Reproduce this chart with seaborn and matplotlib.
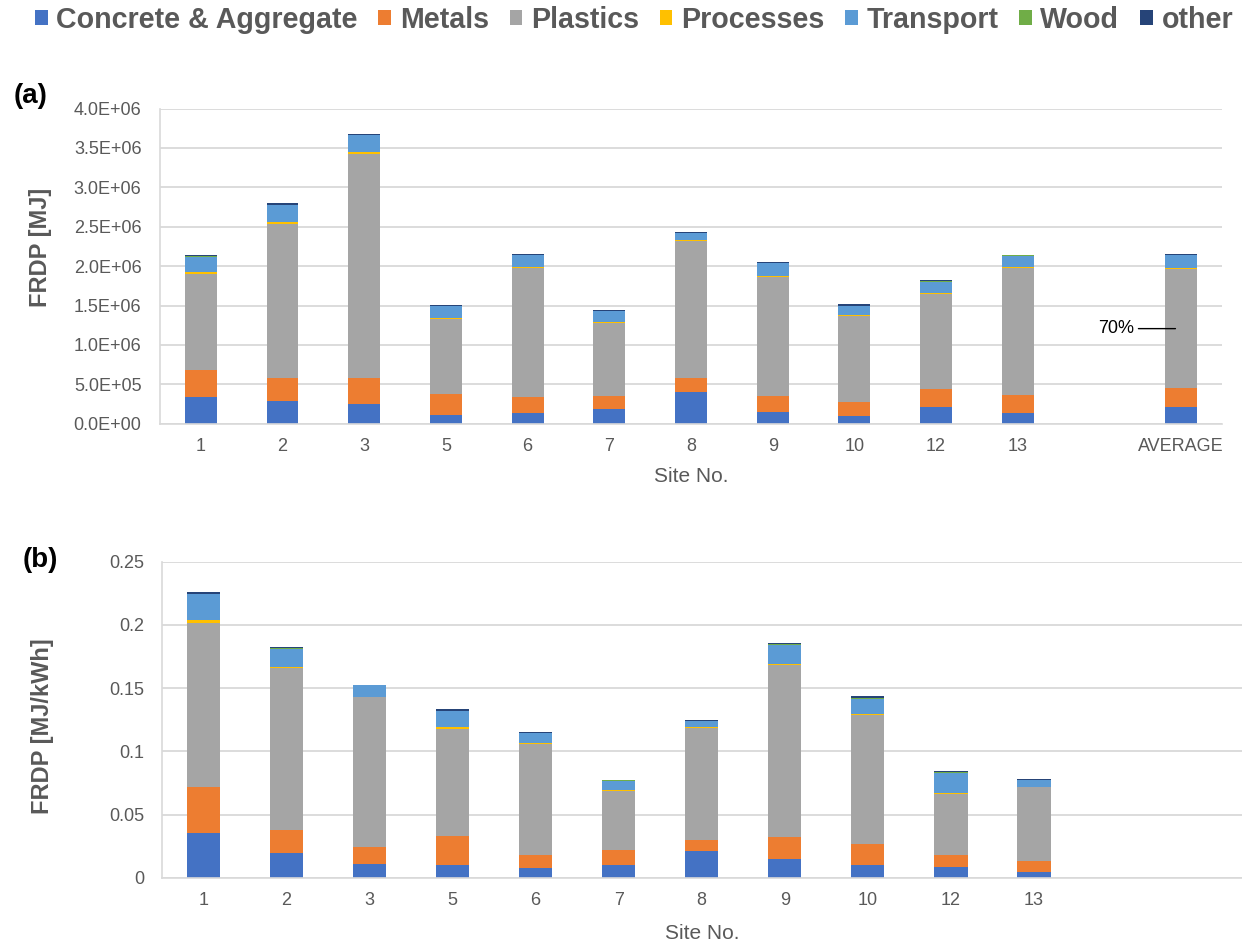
import numpy as np
import pandas as pd
import matplotlib
matplotlib.use("Agg")
import matplotlib.pyplot as plt
import seaborn as sns
from matplotlib.patches import Patch
from matplotlib.ticker import FuncFormatter

# ---------------------------------------------------------------- data
sites = ["1", "2", "3", "5", "6", "7", "8", "9", "10", "12", "13"]
categories = ["Concrete & Aggregate", "Metals", "Plastics", "Processes",
              "Transport", "Wood", "other"]
colors = ["#4472C4", "#ED7D31", "#A5A5A5", "#FFC000",
          "#5B9BD5", "#70AD47", "#264478"]

# (a) FRDP per site [MJ]
concrete_mj  = [335e3, 288e3, 254e3, 110e3, 132e3, 190e3, 406e3, 152e3, 94e3, 216e3, 132e3]
metals_mj    = [346e3, 296e3, 330e3, 271e3, 203e3, 165e3, 178e3, 203e3, 185e3, 228e3, 228e3]
plastics_mj  = [1220e3, 1954e3, 2842e3, 951e3, 1637e3, 919e3, 1731e3, 1507e3, 1084e3, 1198e3, 1616e3]
processes_mj = [25e3, 22e3, 22e3, 13e3, 17e3, 13e3, 12e3, 12e3, 13e3, 13e3, 13e3]
transport_mj = [195e3, 219e3, 216e3, 145e3, 152e3, 139e3, 93e3, 161e3, 121e3, 139e3, 143e3]
wood_mj      = [3e3, 2e3, 2e3, 2e3, 3e3, 8e3, 3e3, 5e3, 3e3, 20e3, 3e3]
other_mj     = [15e3, 20e3, 10e3, 14e3, 9e3, 5e3, 10e3, 12e3, 23e3, 6e3, 6e3]

# (b) FRDP per unit of electricity [MJ/kWh]
concrete_kwh  = [0.0351, 0.0193, 0.0111, 0.0098, 0.0074, 0.0098, 0.0209, 0.0150, 0.0098, 0.0085, 0.0047]
metals_kwh    = [0.0366, 0.0187, 0.0129, 0.0234, 0.0108, 0.0119, 0.0087, 0.0174, 0.0169, 0.0097, 0.0083]
plastics_kwh  = [0.1295, 0.1276, 0.1189, 0.0844, 0.0873, 0.0466, 0.0886, 0.1356, 0.1017, 0.0482, 0.0587]
processes_kwh = [0.0024, 0.0011, 0.0003, 0.0014, 0.0011, 0.0008, 0.0010, 0.0013, 0.0013, 0.0006, 0.0002]
transport_kwh = [0.0205, 0.0144, 0.0090, 0.0126, 0.0079, 0.0076, 0.0047, 0.0150, 0.0114, 0.0160, 0.0050]
wood_kwh      = [0.0006, 0.0003, 0.0002, 0.0003, 0.0003, 0.0004, 0.0003, 0.0007, 0.0008, 0.0010, 0.0002]
other_kwh     = [0.0010, 0.0013, 0.0004, 0.0015, 0.0005, 0.0004, 0.0005, 0.0004, 0.0021, 0.0002, 0.0006]

layers_mj = np.array([concrete_mj, metals_mj, plastics_mj, processes_mj,
                      transport_mj, wood_mj, other_mj])
layers_kwh = np.array([concrete_kwh, metals_kwh, plastics_kwh, processes_kwh,
                       transport_kwh, wood_kwh, other_kwh])

# site average appended as its own bar in panel (a)
avg_mj = layers_mj.mean(axis=1, keepdims=True)
layers_a = np.hstack([layers_mj, avg_mj])
labels_a = sites + ["AVERAGE"]
order_a = sites + [" ", "AVERAGE"]
order_b = sites + [" ", "  "]

# ---------------------------------------------------------------- style
sns.set_style("white")
plt.rcParams["font.family"] = ["Liberation Sans", "DejaVu Sans"]
TXT = "#595959"
GRID = "#d9d9d9"
PX = 1 / 1.389  # points per pixel at 100 dpi

fig = plt.figure(figsize=(12.42, 9.47), dpi=100)
W, H = 1242, 947


def axes_px(x0, y_top, x1, y_bot):
    return fig.add_axes([x0 / W, 1 - y_bot / H, (x1 - x0) / W, (y_bot - y_top) / H])


def stacked_bars(ax, layers, labels, order, width):
    cum = np.cumsum(layers, axis=0)
    for i in reversed(range(layers.shape[0])):
        d = pd.DataFrame({"site": labels, "value": cum[i]})
        sns.barplot(data=d, x="site", y="value", order=order, color=colors[i],
                    saturation=1, width=width, errorbar=None,
                    linewidth=0, ax=ax)
    n = len(order)
    ax.set_xlim(-0.5, n - 0.5)
    ax.set_xticks(range(n))
    ax.set_xticklabels(order)
    ax.set_xticks(np.arange(-0.5, n, 1.0), minor=True)
    ax.set_xlabel("")
    ax.set_ylabel("")
    ax.tick_params(axis="x", which="major", length=0, pad=10, labelsize=13, labelcolor=TXT)
    ax.tick_params(axis="x", which="minor", length=6 * PX, width=1, color=GRID, direction="out")
    ax.tick_params(axis="y", which="major", length=6 * PX, width=1, color=GRID,
                   labelsize=13, labelcolor=TXT, direction="out")
    for s in ("top", "right"):
        ax.spines[s].set_visible(False)
    for s in ("left", "bottom"):
        ax.spines[s].set_color(GRID)
        ax.spines[s].set_linewidth(1.2)
    ax.yaxis.grid(True, color=GRID, linewidth=1.3)
    ax.set_axisbelow(True)


# ---------------------------------------------------------------- (a)
ax_a = axes_px(160, 108.5, 1222, 423.7)
stacked_bars(ax_a, layers_a, labels_a, order_a, 0.39)
ax_a.set_ylim(0, 4.0e6)
ax_a.set_yticks(np.arange(0, 4.01e6, 0.5e6))
ax_a.yaxis.set_major_formatter(FuncFormatter(lambda v, p: f"{v:.1E}"))
ax_a.tick_params(axis="y", pad=9)

# plastics share of the average bar
avg = layers_a[:, -1]
share = avg[2] / avg.sum()
y_mid = avg[0] + avg[1] + avg[2] / 2
x_avg = order_a.index("AVERAGE")
ax_a.annotate(f"{share:.0%}", xy=(x_avg - 0.07, y_mid), xytext=(x_avg - 0.58, y_mid),
              ha="right", va="center", fontsize=13, color="black",
              arrowprops=dict(arrowstyle="-", color="black", lw=1, shrinkA=1, shrinkB=0))

# ---------------------------------------------------------------- (b)
ax_b = axes_px(161.7, 561.7, 1241.7, 877.7)
stacked_bars(ax_b, layers_kwh, sites, order_b, 0.40)
ax_b.set_ylim(0, 0.25)
ax_b.set_yticks(np.arange(0, 0.2501, 0.05))
ax_b.yaxis.set_major_formatter(FuncFormatter(lambda v, p: f"{round(v, 2):g}"))
ax_b.tick_params(axis="y", pad=8)

# ---------------------------------------------------------------- text
fig.text(41 / W, 1 - 247 / H, "FRDP [MJ]", rotation=90, ha="center", va="center",
         fontsize=17, fontweight="bold", color=TXT)
fig.text(43 / W, 1 - 726 / H, "FRDP [MJ/kWh]", rotation=90, ha="center", va="center",
         fontsize=17, fontweight="bold", color=TXT)
fig.text(691 / W, 1 - 476 / H, "Site No.", ha="center", va="center", fontsize=15, color=TXT)
fig.text(702 / W, 1 - 933 / H, "Site No.", ha="center", va="center", fontsize=15, color=TXT)
fig.text(31 / W, 1 - 96 / H, "(a)", ha="center", va="center", fontsize=20,
         fontweight="bold", color="black")
fig.text(40 / W, 1 - 560 / H, "(b)", ha="center", va="center", fontsize=20,
         fontweight="bold", color="black")

handles = [Patch(facecolor=c, edgecolor="none") for c in colors]
fig.legend(handles, categories, loc="upper center", bbox_to_anchor=(634 / W, 1 - 6 / H),
           ncol=7, frameon=False, prop={"weight": "bold", "size": 20.6},
           labelcolor=TXT, handlelength=0.45, handleheight=0.45,
           handletextpad=0.3, columnspacing=0.72, borderpad=0, borderaxespad=0)

fig.savefig("out.png", dpi=100)
